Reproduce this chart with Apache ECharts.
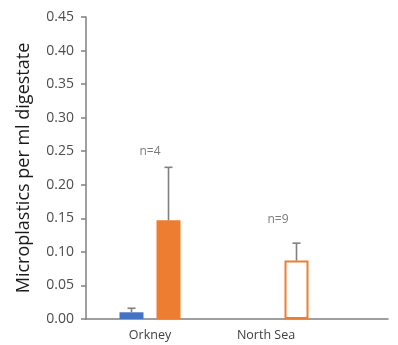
<!DOCTYPE html>
<html>
<head>
<meta charset="utf-8">
<script src="https://cdn.jsdelivr.net/npm/echarts@6/dist/echarts.min.js"></script>
<style>html,body{margin:0;padding:0;background:#fff}#c{width:398px;height:345px}</style>
</head>
<body>
<div id="c"></div>
<script>
// ---- data ----
const categories = ['Orkney', 'North Sea'];
const blueValues = [0.010, null];
const blueErrTop = [0.016, null];
const orangeValues = [0.147, 0.087];
const orangeErrTop = [0.226, 0.113];
const orangeHollow = [false, true];
const nLabels = ['n=4', 'n=9'];
const nLabelY = [0.249, 0.148];
const yTicks = [0, 0.05, 0.10, 0.15, 0.20, 0.25, 0.30, 0.35, 0.40, 0.45];

const BLUE = '#4472C4', ORANGE = '#ED7D31', AXIS = '#808080', ERR = '#808080';
const BAR_W = 24, GAP_PX = 13, HALF = (BAR_W + GAP_PX) / 2;

const chart = echarts.init(document.getElementById('c'), null, {renderer: 'canvas'});

const errData = [];
categories.forEach((c, i) => {
  if (blueValues[i] != null) errData.push([i, blueValues[i], blueErrTop[i], -1]);
  if (orangeValues[i] != null) errData.push([i, orangeValues[i], orangeErrTop[i], 1]);
});

const option = {
  animation: false,
  textStyle: {fontFamily: 'Open Sans'},
  grid: [
    {left: 86, top: 17, bottom: 26, width: 256},
    {left: 86, top: 17, bottom: 26, right: 10}
  ],
  xAxis: [
    {type: 'category', gridIndex: 0, data: categories,
     axisLine: {show: false}, axisTick: {show: false},
     axisLabel: {margin: 10, color: '#404040', fontSize: 12.5,
       formatter: v => v === 'North Sea' ? '{s|' + v + '}' : v,
       rich: {s: {fontSize: 12.5, color: '#404040', padding: [0, 24, 0, 0]}}}},
    {type: 'value', gridIndex: 1, min: 0, max: 1,
     axisLine: {show: true, onZero: false, lineStyle: {color: AXIS, width: 1.5}},
     axisTick: {show: false}, axisLabel: {show: false}, splitLine: {show: false}}
  ],
  yAxis: [
    {type: 'value', gridIndex: 0, min: 0, max: 0.45, interval: 0.05,
     name: 'Microplastics per ml digestate', nameLocation: 'middle', nameGap: 53,
     nameTextStyle: {fontSize: 18, color: '#1a1a1a'},
     axisLine: {show: true, lineStyle: {color: AXIS, width: 1.5}},
     axisTick: {show: true, inside: false, length: 5, lineStyle: {color: AXIS, width: 1.5}},
     axisLabel: {margin: 12, color: '#4d4d4d', fontSize: 14, formatter: v => v.toFixed(2)},
     splitLine: {show: false}},
    {type: 'value', gridIndex: 1, show: false, min: 0, max: 1}
  ],
  series: [
    {type: 'bar', xAxisIndex: 0, yAxisIndex: 0, data: blueValues, barWidth: BAR_W,
     barGap: (GAP_PX / BAR_W * 100) + '%', itemStyle: {color: BLUE}},
    {type: 'bar', xAxisIndex: 0, yAxisIndex: 0, barWidth: BAR_W,
     data: orangeValues.map((v, i) => orangeHollow[i]
       ? {value: v, itemStyle: {color: '#ffffff', borderColor: ORANGE, borderWidth: 2}}
       : {value: v, itemStyle: {color: ORANGE}})},
    {type: 'custom', xAxisIndex: 0, yAxisIndex: 0, data: errData, z: 5,
     renderItem: (params, api) => {
       const base = api.coord([api.value(0), api.value(1)]);
       const top = api.coord([api.value(0), api.value(2)]);
       const x = base[0] + api.value(3) * HALF;
       const st = {stroke: ERR, lineWidth: 1.6};
       return {type: 'group', children: [
         {type: 'line', shape: {x1: x, y1: base[1], x2: x, y2: top[1]}, style: st},
         {type: 'line', shape: {x1: x - 4, y1: top[1], x2: x + 4, y2: top[1]}, style: st}
       ]};
     }},
    {type: 'scatter', xAxisIndex: 0, yAxisIndex: 0, symbolSize: 0,
     data: nLabelY.map((y, i) => [i, y]),
     label: {show: true, position: 'inside', color: '#595959', fontSize: 12,
       formatter: p => nLabels[p.dataIndex]}}
  ]
};
chart.setOption(option);
</script>
</body>
</html>
